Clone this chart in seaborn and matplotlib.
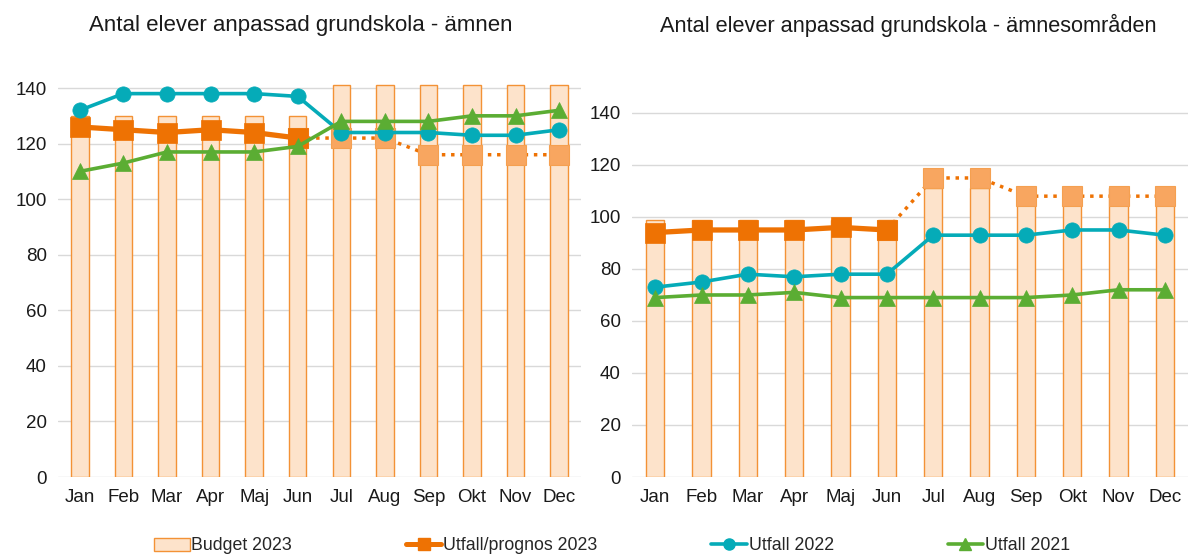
import numpy as np
import pandas as pd
import matplotlib
matplotlib.use("Agg")
import matplotlib.pyplot as plt
import seaborn as sns
from matplotlib.patches import Patch
from matplotlib.lines import Line2D

months = ["Jan", "Feb", "Mar", "Apr", "Maj", "Jun", "Jul", "Aug", "Sep", "Okt", "Nov", "Dec"]

# Left chart: ämnen
left_budget = [130, 130, 130, 130, 130, 130, 141, 141, 141, 141, 141, 141]
left_utfall23 = [126, 125, 124, 125, 124, 122]
left_prognos23 = [122, 122, 122, 116, 116, 116, 116]  # Jun..Dec
left_utfall22 = [132, 138, 138, 138, 138, 137, 124, 124, 124, 123, 123, 125]
left_utfall21 = [110, 113, 117, 117, 117, 119, 128, 128, 128, 130, 130, 132]

# Right chart: ämnesområden
right_budget = [99, 99, 99, 99, 99, 99, 111, 111, 111, 111, 111, 111]
right_utfall23 = [94, 95, 95, 95, 96, 95]
right_prognos23 = [95, 115, 115, 108, 108, 108, 108]  # Jun..Dec
right_utfall22 = [73, 75, 78, 77, 78, 78, 93, 93, 93, 95, 95, 93]
right_utfall21 = [69, 70, 70, 71, 69, 69, 69, 69, 69, 70, 72, 72]

titles = ["Antal elever anpassad grundskola - ämnen",
          "Antal elever anpassad grundskola - ämnesområden"]
legend_labels = ["Budget 2023", "Utfall/prognos 2023", "Utfall 2022", "Utfall 2021"]

BAR_FILL = "#FDE3CB"
BAR_EDGE = "#F39236"
ORANGE = "#EE7203"
ORANGE_LIGHT = "#F8A660"
TEAL = "#05ABB8"
GREEN = "#5BAD33"
GRID = "#D9D9D9"

sns.set_theme(style="white")
plt.rcParams["font.family"] = ["Liberation Sans", "DejaVu Sans"]

fig = plt.figure(figsize=(11.92, 5.56), dpi=100)
W, H = 1192, 556
ax_l = fig.add_axes([58 / W, 1 - 477 / H, (581 - 58) / W, (477 - 75) / H])
ax_r = fig.add_axes([632 / W, 1 - 477 / H, (1188 - 632) / W, (477 - 75) / H])


def draw(ax, budget, utf23, prog23, utf22, utf21, ytop):
    sns.barplot(x=months, y=budget, order=months, color=BAR_FILL, saturation=1,
                edgecolor=BAR_EDGE, linewidth=1.0, width=0.4, ax=ax, zorder=2)
    sns.pointplot(x=months[5:], y=prog23, order=months, color=ORANGE, markers="s",
                  linestyles=":", errorbar=None, ax=ax, linewidth=2.5,
                  markersize=14, markerfacecolor=ORANGE_LIGHT,
                  markeredgecolor="#F5A050", markeredgewidth=0.8)
    sns.pointplot(x=months[:6], y=utf23, order=months, color=ORANGE, markers="s",
                  linestyles="-", errorbar=None, ax=ax, linewidth=3.8,
                  markersize=15, markeredgewidth=0.5)
    sns.pointplot(x=months, y=utf22, order=months, color=TEAL, markers="o",
                  linestyles="-", errorbar=None, ax=ax, linewidth=2.6,
                  markersize=11, markeredgewidth=0.5)
    sns.pointplot(x=months, y=utf21, order=months, color=GREEN, markers="^",
                  linestyles="-", errorbar=None, ax=ax, linewidth=2.6,
                  markersize=12, markeredgewidth=0.5)
    ax.set_xlim(-0.5, 11.5)
    ax.set_ylim(0, ytop)
    ax.set_yticks(np.arange(0, 141, 20))
    ax.yaxis.grid(True, color=GRID, linewidth=1.0)
    ax.xaxis.grid(False)
    ax.set_axisbelow(True)
    for s in ax.spines.values():
        s.set_visible(False)
    ax.tick_params(axis="both", length=0, labelsize=13.5, colors="#1a1a1a")
    ax.tick_params(axis="x", pad=9)
    ax.tick_params(axis="y", pad=8)
    ax.set_xlabel("")
    ax.set_ylabel("")


draw(ax_l, left_budget, left_utfall23, left_prognos23, left_utfall22, left_utfall21, 144.7)
draw(ax_r, right_budget, right_utfall23, right_prognos23, right_utfall22, right_utfall21, 154.6)

fig.text(301 / W, 1 - 25 / H, titles[0], ha="center", va="center", fontsize=16, color="#1a1a1a")
fig.text(908 / W, 1 - 25 / H, titles[1], ha="center", va="center", fontsize=15.7, color="#1a1a1a")

handles = [
    Patch(facecolor=BAR_FILL, edgecolor=BAR_EDGE, linewidth=1.0),
    Line2D([], [], color=ORANGE, linewidth=3.6, marker="s", markersize=9),
    Line2D([], [], color=TEAL, linewidth=2.6, marker="o", markersize=8),
    Line2D([], [], color=GREEN, linewidth=2.6, marker="^", markersize=8),
]
fig.legend(handles, legend_labels, loc="center", bbox_to_anchor=(612 / W, 1 - 546 / H),
           ncol=4, frameon=False, fontsize=12.8, handlelength=2.0, handletextpad=0.1,
           columnspacing=6.4, borderaxespad=0)

fig.savefig("out.png", dpi=100)
